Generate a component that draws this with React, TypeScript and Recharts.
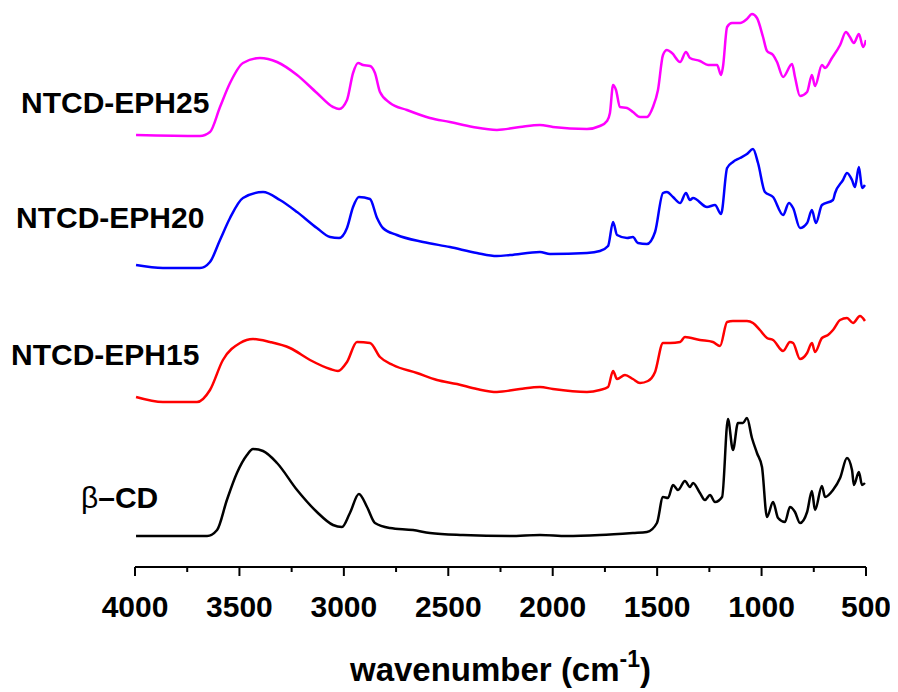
import React from 'react';
import { LineChart, Line, XAxis, YAxis, Label } from 'recharts';

// wavenumber (cm-1) and relative intensity (offset traces, a.u.)
const cdWn = [3995, 3655, 3607, 3560, 3512, 3464, 3435, 3387, 3320, 3224, 3129, 3052, 3009, 2971, 2928, 2889, 2851, 2779, 2669, 2588, 2430, 2204, 2061, 1932, 1774, 1616, 1549, 1501, 1472, 1448, 1424, 1400, 1367, 1343, 1328, 1295, 1271, 1247, 1223, 1189, 1161, 1137, 1113, 1089, 1070, 1046, 1022, 998, 974, 945, 921, 888, 864, 840, 816, 782, 759, 744, 711, 696, 658, 624, 591, 567, 558, 534, 519, 505];
const cdVal = [31, 31, 37, 67, 94, 112, 118, 116, 104, 77, 55, 42, 40, 54, 73, 60, 44, 39, 37, 34, 32, 31, 32, 31, 32, 34, 35, 44, 70, 69, 82, 77, 86, 80, 84, 74, 67, 72, 65, 70, 148, 117, 144, 144, 149, 129, 114, 100, 50, 65, 49, 45, 60, 55, 44, 55, 76, 57, 81, 70, 77, 89, 109, 97, 82, 95, 82, 84];

const eph15Wn = [3995, 3866, 3703, 3641, 3579, 3497, 3435, 3354, 3258, 3162, 3066, 3028, 2985, 2937, 2875, 2827, 2765, 2650, 2554, 2458, 2363, 2267, 2157, 2061, 1999, 1836, 1774, 1735, 1711, 1692, 1654, 1616, 1582, 1544, 1510, 1472, 1438, 1390, 1367, 1295, 1233, 1199, 1165, 1137, 1070, 1041, 1008, 974, 945, 897, 864, 849, 816, 782, 759, 744, 711, 682, 658, 624, 591, 562, 529, 505];
const eph15Val = [170, 165, 165, 177, 207, 224, 228, 225, 219, 207, 198, 196, 205, 225, 224, 210, 202, 194, 187, 183, 178, 175, 178, 180, 178, 175, 177, 180, 196, 188, 192, 188, 184, 186, 195, 224, 224, 225, 230, 227, 225, 221, 245, 246, 246, 244, 237, 229, 227, 216, 225, 224, 208, 214, 224, 215, 229, 232, 237, 247, 249, 244, 251, 246];

const eph20Wn = [3995, 3866, 3689, 3641, 3593, 3545, 3483, 3387, 3306, 3224, 3129, 3066, 3023, 2985, 2956, 2928, 2875, 2841, 2813, 2746, 2621, 2492, 2363, 2267, 2204, 2061, 2013, 1836, 1774, 1735, 1711, 1692, 1644, 1616, 1592, 1549, 1510, 1472, 1453, 1424, 1390, 1362, 1343, 1328, 1261, 1223, 1194, 1165, 1137, 1103, 1070, 1041, 1017, 984, 945, 897, 869, 849, 816, 782, 759, 740, 711, 658, 648, 610, 591, 567, 553, 534, 519, 505];
const eph20Val = [302, 299, 299, 305, 327, 349, 369, 375, 367, 355, 339, 330, 329, 339, 360, 370, 368, 349, 339, 332, 325, 320, 314, 311, 312, 315, 313, 314, 316, 321, 345, 332, 329, 330, 324, 323, 335, 374, 375, 370, 364, 374, 367, 369, 360, 362, 353, 399, 405, 409, 413, 418, 404, 375, 370, 352, 364, 359, 339, 344, 357, 344, 362, 367, 374, 387, 394, 387, 380, 400, 379, 382];

const eph25Wn = [3995, 3689, 3641, 3593, 3545, 3483, 3402, 3320, 3224, 3129, 3052, 3023, 2985, 2956, 2932, 2908, 2875, 2851, 2827, 2779, 2698, 2588, 2492, 2382, 2267, 2157, 2061, 1999, 1836, 1774, 1740, 1726, 1711, 1697, 1678, 1644, 1616, 1582, 1549, 1520, 1496, 1472, 1453, 1429, 1390, 1362, 1343, 1295, 1256, 1213, 1194, 1185, 1165, 1142, 1103, 1070, 1046, 1022, 993, 974, 945, 926, 897, 854, 840, 816, 782, 759, 744, 711, 696, 663, 624, 596, 577, 558, 534, 514, 500];
const eph25Val = [432, 431, 435, 460, 484, 504, 509, 505, 492, 474, 460, 458, 467, 494, 504, 502, 501, 494, 475, 464, 457, 449, 445, 440, 437, 440, 442, 440, 438, 441, 446, 454, 482, 477, 460, 459, 455, 450, 450, 460, 477, 512, 517, 514, 505, 515, 509, 506, 502, 502, 492, 500, 540, 544, 544, 548, 553, 549, 530, 516, 512, 505, 490, 503, 490, 471, 475, 492, 481, 502, 499, 509, 522, 535, 530, 524, 533, 520, 527];

const tickValues = [4000, 3750, 3500, 3250, 3000, 2750, 2500, 2250, 2000, 1750, 1500, 1250, 1000, 750, 500];

const toRows = (wn: number[], val: number[]) => wn.map((w, i) => ({ wn: w, v: val[i] }));

const series = [
  { name: 'β–CD', data: toRows(cdWn, cdVal), color: '#000000' },
  { name: 'NTCD-EPH15', data: toRows(eph15Wn, eph15Val), color: '#ff0000' },
  { name: 'NTCD-EPH20', data: toRows(eph20Wn, eph20Val), color: '#0000ff' },
  { name: 'NTCD-EPH25', data: toRows(eph25Wn, eph25Val), color: '#ff00ff' },
];

const font = '"Liberation Sans", Arial, sans-serif';

const AxisTick = (props: any) => {
  const { x, y, payload } = props;
  const major = payload.value % 500 === 0;
  return (
    <g>
      <line x1={x} x2={x} y1={y} y2={y + (major ? 9 : 5)} stroke="#000" strokeWidth={2} />
      {major && (
        <text x={x} y={y + 50} textAnchor="middle" fontFamily={font} fontWeight="bold" fontSize={30} fill="#000">
          {payload.value}
        </text>
      )}
    </g>
  );
};

const AxisTitle = (props: any) => {
  const { viewBox } = props;
  const cx = viewBox.x + viewBox.width / 2;
  return (
    <text x={cx} y={viewBox.y + 114} textAnchor="middle" fontFamily={font} fontWeight="bold" fontSize={33} fill="#000">
      wavenumber (cm
      <tspan dy={-14} fontSize={23}>-1</tspan>
      <tspan dy={14}>)</tspan>
    </text>
  );
};

const traceLabels = [
  { text: 'NTCD-EPH25', left: 13, top: 80 },
  { text: 'NTCD-EPH20', left: 8, top: 195 },
  { text: 'NTCD-EPH15', left: 3, top: 332 },
];

export default function App() {
  return (
    <div style={{ position: 'relative', width: 882, height: 684, background: '#fff' }}>
      <LineChart width={882} height={684} margin={{ top: 0, right: 24, bottom: 0, left: 127 }}>
        <XAxis
          type="number"
          dataKey="wn"
          domain={[500, 4000]}
          reversed
          allowDataOverflow
          ticks={tickValues}
          interval={0}
          tickSize={0}
          tickMargin={0}
          tickLine={false}
          tick={<AxisTick />}
          axisLine={{ stroke: '#000', strokeWidth: 2 }}
          height={125}
        >
          <Label content={<AxisTitle />} />
        </XAxis>
        <YAxis hide type="number" domain={[0, 559]} allowDataOverflow />
        {series.map((s) => (
          <Line
            key={s.name}
            data={s.data}
            dataKey="v"
            name={s.name}
            type="monotone"
            stroke={s.color}
            strokeWidth={2.5}
            dot={false}
            isAnimationActive={false}
          />
        ))}
      </LineChart>
      {traceLabels.map((l) => (
        <div
          key={l.text}
          style={{ position: 'absolute', left: l.left, top: l.top, fontFamily: font, fontWeight: 'bold', fontSize: 30, lineHeight: 1, whiteSpace: 'nowrap' }}
        >
          {l.text}
        </div>
      ))}
      <div style={{ position: 'absolute', left: 73, top: 475, fontFamily: font, fontWeight: 'bold', fontSize: 30, lineHeight: 1, whiteSpace: 'nowrap' }}>
        <span style={{ fontWeight: 'normal' }}>β</span>–CD
      </div>
    </div>
  );
}
